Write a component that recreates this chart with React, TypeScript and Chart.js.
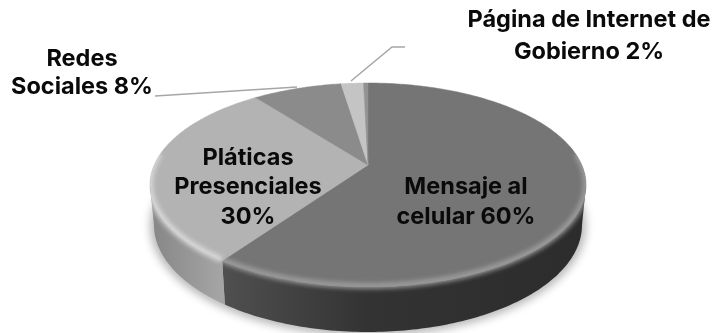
import React, { useEffect, useRef } from "react";
import { Chart, registerables } from "chart.js";

Chart.register(...registerables);

const categories = ["Mensaje al celular", "Pláticas Presenciales", "Redes Sociales", "Página de Internet de Gobierno", "Otros"];
const values = [59.7, 29.9, 8, 2, 0.4];
const topColors = ["#757575", "#b3b3b3", "#8b8b8b", "#c4c4c4", "#929292"];
const rimColors = ["#a4a4a4", "#e0e0e0", "#a8a8a8", "#d8d8d8", "#a8a8a8"];
const sideStops = [
  ["#2c2c2c", "#333333", "#505050"],
  ["#a4a4a4", "#868686", "#868686"],
  ["#666666", "#666666", "#666666"],
  ["#888888", "#888888", "#888888"],
  ["#666666", "#666666", "#666666"],
];
const labelLines = [
  { text: "Redes", x: 82, y: 59 },
  { text: "Sociales 8%", x: 82, y: 87 },
  { text: "Página de Internet de", x: 589, y: 20 },
  { text: "Gobierno 2%", x: 589, y: 52 },
  { text: "Pláticas", x: 248, y: 158 },
  { text: "Presenciales", x: 248, y: 187 },
  { text: "30%", x: 248, y: 217 },
  { text: "Mensaje al", x: 466, y: 187 },
  { text: "celular 60%", x: 466, y: 217 },
];
const leaders = [
  [[155, 96], [297, 87]],
  [[351, 81], [392, 47], [405, 47]],
];

const CX = 368, CY = 185, RX = 218, RY = 102, APEX = 165;
const BCY = 225, BRX = 214, BRY = 107;
const K = (CY - APEX) / RY;
const C = RX * Math.sqrt(1 - K * K);

const project = (a: number) => {
  const u = Math.cos(a), v = Math.sin(a);
  const d = 1 - K * v;
  return { X: (C * u) / d, Y: (RY * v - (CY - APEX)) / d };
};
const topPt = (a: number) => { const p = project(a); return [CX + p.X, CY + p.Y]; };
const botPt = (a: number) => {
  const p = project(a);
  return [CX + (p.X * BRX) / RX, BCY + (p.Y * BRY) / RY];
};
const FRONT0 = Math.asin(K), FRONT1 = Math.PI - Math.asin(K);

const sample = (a0: number, a1: number, f: (a: number) => number[]) => {
  const pts: number[][] = [];
  const n = Math.max(2, Math.ceil(Math.abs(a1 - a0) * 60));
  for (let i = 0; i <= n; i++) pts.push(f(a0 + ((a1 - a0) * i) / n));
  return pts;
};
const trace = (ctx: CanvasRenderingContext2D, pts: number[][], move = true) => {
  pts.forEach((p, i) => (i === 0 && move ? ctx.moveTo(p[0], p[1]) : ctx.lineTo(p[0], p[1])));
};

const piePlugin = {
  id: "tiltedPie",
  beforeDatasetsDraw(chart: any) {
    const ctx: CanvasRenderingContext2D = chart.ctx;
    const arcs = chart.getDatasetMeta(0).data;
    ctx.save();

    // soft cast shadow
    ctx.save();
    ctx.filter = "blur(4px)";
    ctx.fillStyle = "rgba(0,0,0,0.28)";
    ctx.beginPath();
    ctx.ellipse(CX, BCY + 1, BRX + 4, BRY + 3, 0, 0, Math.PI * 2);
    ctx.fill();
    ctx.restore();

    // sides
    arcs.forEach((arc: any, i: number) => {
      const a0 = Math.max(arc.startAngle, FRONT0), a1 = Math.min(arc.endAngle, FRONT1);
      if (a1 <= a0) return;
      const g = ctx.createLinearGradient(CX - RX, 0, CX + RX, 0);
      const s = sideStops[i];
      if (i === 0) {
        g.addColorStop(0.16, s[2]); g.addColorStop(0.5, s[1]); g.addColorStop(1, s[0]);
      } else {
        g.addColorStop(0, s[2]); g.addColorStop(0.16, s[0]);
      }
      ctx.fillStyle = g;
      ctx.beginPath();
      trace(ctx, sample(a0, a1, topPt));
      trace(ctx, sample(a1, a0, botPt), false);
      ctx.closePath();
      ctx.fill();
    });

    // top faces
    arcs.forEach((arc: any, i: number) => {
      ctx.fillStyle = topColors[i];
      ctx.strokeStyle = topColors[i];
      ctx.lineWidth = 0.5;
      ctx.beginPath();
      ctx.moveTo(CX, APEX);
      trace(ctx, sample(arc.startAngle, arc.endAngle, topPt), false);
      ctx.closePath();
      ctx.fill();
      ctx.stroke();
    });

    // soft bevel along the front rim, kept inside the solid's outline
    ctx.save();
    ctx.beginPath();
    trace(ctx, sample(-Math.PI, Math.PI, topPt));
    ctx.closePath();
    trace(ctx, [...sample(FRONT0, FRONT1, botPt), ...sample(FRONT1, FRONT0, topPt)]);
    ctx.closePath();
    ctx.clip("nonzero");
    arcs.forEach((arc: any, i: number) => {
      const a0 = Math.max(arc.startAngle, FRONT0 - 0.3), a1 = Math.min(arc.endAngle, FRONT1 + 0.3);
      if (a1 <= a0) return;
      ctx.save();
      ctx.filter = "blur(2.5px)";
      ctx.strokeStyle = rimColors[i];
      ctx.lineWidth = 5;
      ctx.lineCap = "butt";
      ctx.beginPath();
      trace(ctx, sample(a0, a1, (a) => { const p = topPt(a); return [p[0], p[1] - 1]; }));
      ctx.stroke();
      ctx.restore();
    });
    ctx.restore();

    // leader lines
    ctx.strokeStyle = "#a6a6a6";
    ctx.lineWidth = 1.5;
    leaders.forEach((l) => {
      ctx.beginPath();
      trace(ctx, l);
      ctx.stroke();
    });

    // labels
    ctx.fillStyle = "#0a0a0a";
    ctx.font = "700 23.5px Inter";
    ctx.textAlign = "center";
    ctx.textBaseline = "middle";
    labelLines.forEach((t) => ctx.fillText(t.text, t.x, t.y));
    ctx.restore();
    return false;
  },
};

export default function App() {
  const ref = useRef<HTMLCanvasElement>(null);
  useEffect(() => {
    const chart = new Chart(ref.current as HTMLCanvasElement, {
      type: "pie",
      data: { labels: categories, datasets: [{ data: values, backgroundColor: topColors, borderWidth: 0 }] },
      options: {
        animation: false,
        responsive: false,
        plugins: { legend: { display: false }, tooltip: { enabled: false } },
      },
      plugins: [piePlugin],
    } as any);
    return () => chart.destroy();
  }, []);
  return (
    <div style={{ position: "fixed", left: 0, top: 0, width: 715, height: 333, background: "#fff" }}>
      <canvas ref={ref} width={715} height={333} style={{ display: "block" }} />
    </div>
  );
}
